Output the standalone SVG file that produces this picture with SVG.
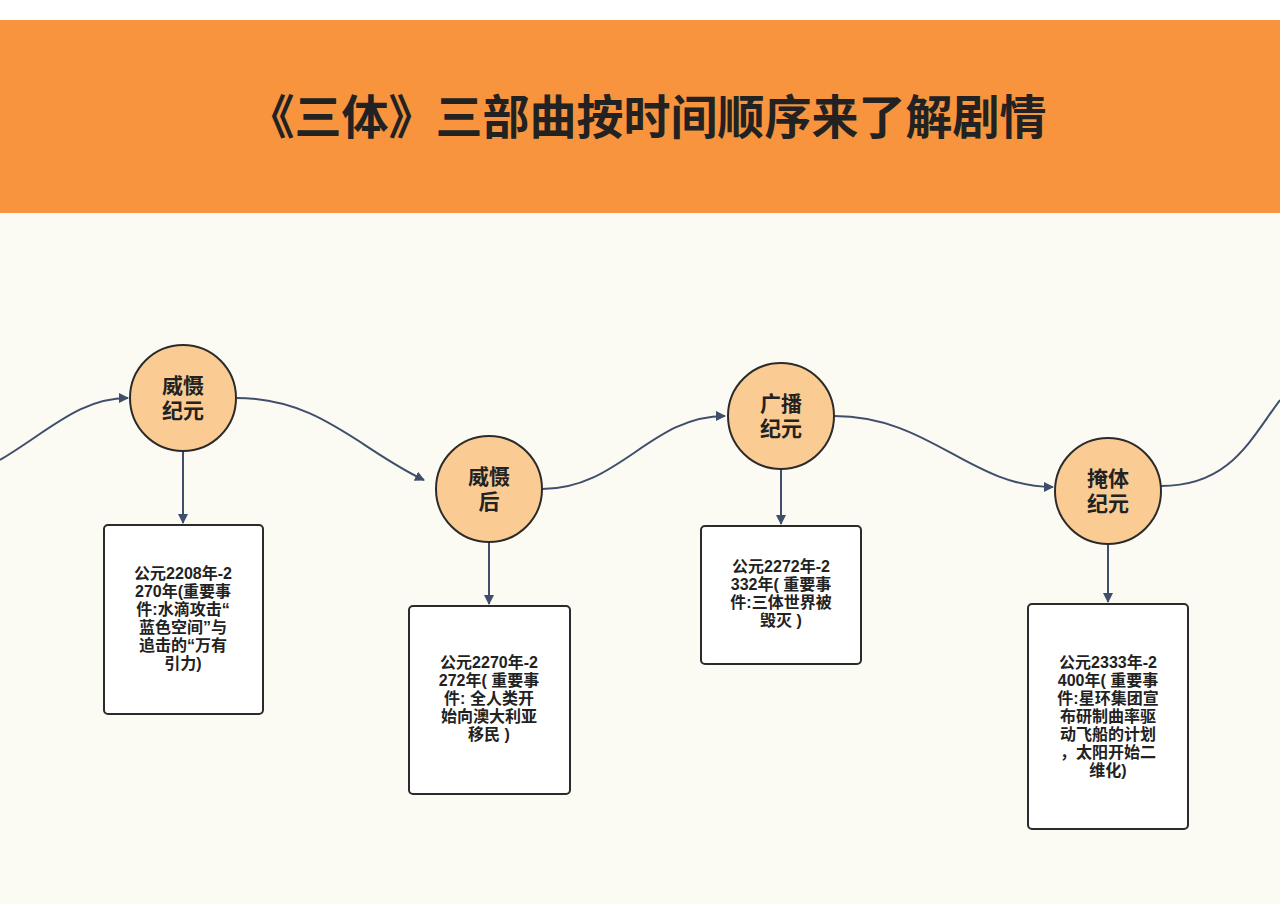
<svg xmlns="http://www.w3.org/2000/svg" width="1280" height="904" viewBox="0 0 1280 904">
<defs>
<marker id="ah" markerWidth="10" markerHeight="10" refX="9" refY="5" orient="auto" markerUnits="userSpaceOnUse"><path d="M0,0 L10,5 L0,10 z" fill="#3f4f6b"/></marker>
<style>
.t{font-family:"Liberation Sans","Noto Sans CJK SC",sans-serif;fill:#222;text-anchor:middle}
.c{fill:#FBCB94;stroke:#2b2b2b;stroke-width:2}
.b{fill:#fff;stroke:#2b2b2b;stroke-width:2}
.e{fill:none;stroke:#3f4f6b;stroke-width:2;marker-end:url(#ah)}
.n{font-size:21px;font-weight:bold}
.s{font-size:16px;font-weight:bold}
</style>
</defs>
<rect width="1280" height="904" fill="#FCFBF3"/>
<rect width="1280" height="20" fill="#fff"/>
<rect y="20" width="1280" height="193" fill="#F7943D"/>
<text class="t" x="647" y="134" font-size="47" font-weight="bold" fill="#1a1a1a">《三体》三部曲按时间顺序来了解剧情</text>
<g id="connectors">
<path class="e" d="M0,460 C50,430 80,398 128,398"/>
<path class="e" d="M236,398 C320,398 360,450 424,480"/>
<path class="e" d="M542,489 C620,489 650,416 725,416"/>
<path class="e" d="M834,416 C930,416 970,487 1053,487"/>
<path fill="none" stroke="#3f4f6b" stroke-width="2" d="M1161,486 C1230,486 1250,440 1280,400"/>
<path class="e" d="M183,451 V523"/>
<path class="e" d="M489,542 V604"/>
<path class="e" d="M781,469 V524"/>
<path class="e" d="M1108,544 V602"/>
</g>
<g id="n1"><circle class="c" cx="183" cy="398" r="53"/><text class="t n" x="183" y="393">威慑</text><text class="t n" x="183" y="418">纪元</text></g>
<g id="n2"><circle class="c" cx="489" cy="489" r="53"/><text class="t n" x="489" y="484">威慑</text><text class="t n" x="489" y="509">后</text></g>
<g id="n3"><circle class="c" cx="781" cy="416" r="53"/><text class="t n" x="781" y="411">广播</text><text class="t n" x="781" y="436">纪元</text></g>
<g id="n4"><circle class="c" cx="1108" cy="491" r="53"/><text class="t n" x="1108" y="486">掩体</text><text class="t n" x="1108" y="511">纪元</text></g>
<g id="b1"><rect class="b" x="104" y="525" width="159" height="189" rx="4"/>
<text class="t s" x="183" y="579">公元2208年-2</text><text class="t s" x="183" y="597">270年(重要事</text><text class="t s" x="183" y="615">件:水滴攻击“</text><text class="t s" x="183" y="633">蓝色空间”与</text><text class="t s" x="183" y="651">追击的“万有</text><text class="t s" x="183" y="669">引力)</text></g>
<g id="b2"><rect class="b" x="409" y="606" width="161" height="188" rx="4"/>
<text class="t s" x="489" y="668">公元2270年-2</text><text class="t s" x="489" y="686">272年( 重要事</text><text class="t s" x="489" y="704">件: 全人类开</text><text class="t s" x="489" y="722">始向澳大利亚</text><text class="t s" x="489" y="740">移民 )</text></g>
<g id="b3"><rect class="b" x="701" y="526" width="160" height="138" rx="4"/>
<text class="t s" x="781" y="572">公元2272年-2</text><text class="t s" x="781" y="590">332年( 重要事</text><text class="t s" x="781" y="608">件:三体世界被</text><text class="t s" x="781" y="626">毁灭 )</text></g>
<g id="b4"><rect class="b" x="1028" y="604" width="160" height="225" rx="4"/>
<text class="t s" x="1108" y="668">公元2333年-2</text><text class="t s" x="1108" y="686">400年( 重要事</text><text class="t s" x="1108" y="704">件:星环集团宣</text><text class="t s" x="1108" y="722">布研制曲率驱</text><text class="t s" x="1108" y="740">动飞船的计划</text><text class="t s" x="1108" y="758">，太阳开始二</text><text class="t s" x="1108" y="776">维化)</text></g>
</svg>
